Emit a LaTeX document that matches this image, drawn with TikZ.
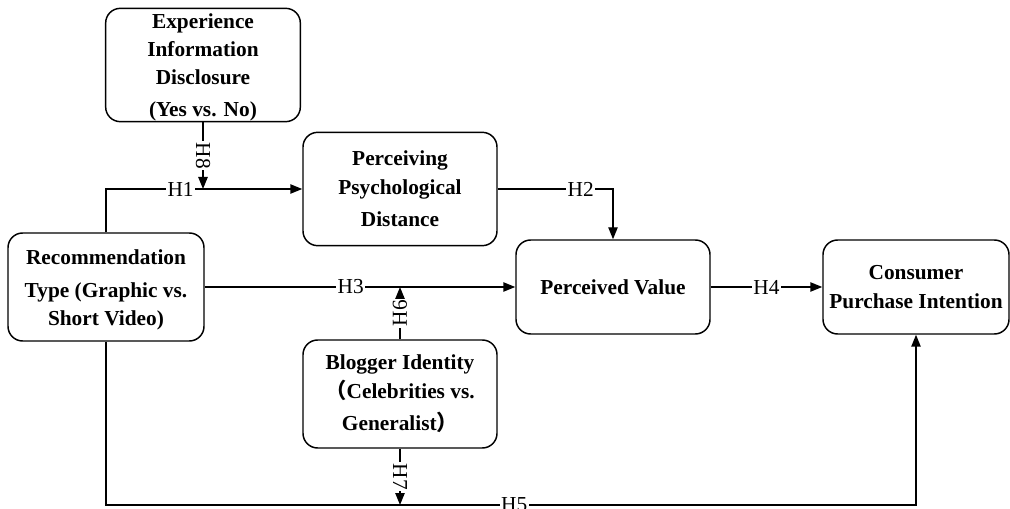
\documentclass[tikz,border=0pt]{standalone}
\usepackage{fontspec}
\setmainfont{Liberation Serif}
\newfontfamily\cjk{Noto Sans CJK SC}
\usetikzlibrary{arrows.meta,positioning}

\tikzset{
  box/.style={draw, line width=1.1pt, rounded corners=11pt, align=center,
    font=\bfseries\fontsize{16}{22}\selectfont, inner sep=2pt},
  hyp/.style={fill=white, inner sep=1pt, font=\fontsize{16}{16}\selectfont},
  link/.style={line width=1.1pt, -{Triangle[length=9pt,width=7pt]}}
}

\begin{document}
\begin{tikzpicture}[x=0.75pt,y=-0.75pt]
  \useasboundingbox (0,0) rectangle (1010,509);

  % variables
  \node[box, inner sep=0pt, minimum width=146pt, minimum height=85pt] (exp) at (203,65)
    {\rule{0pt}{14pt}Experience\\[-1pt]Information\\[-1pt]Disclosure\\[2pt](Yes vs. No)};
  \node[box, minimum width=145.5pt, minimum height=85pt] (perc) at (400,189)
    {Perceiving\\Psychological\\[2pt]Distance};
  \node[box, inner sep=0pt, minimum width=147pt, minimum height=81pt] (rec) at (106,287)
    {\rule{0pt}{15pt}Recommendation\\[3pt]Type (Graphic vs.\\[-1pt]Short Video)};
  \node[box, minimum width=145.5pt, minimum height=70.5pt] (pv) at (613,287)
    {Perceived Value};
  \node[box, minimum width=139.5pt, minimum height=70.5pt] (cons) at (916,287)
    {Consumer\\Purchase Intention};
  \node[box, minimum width=145.5pt, minimum height=81pt] (blog) at (400,394)
    {Blogger Identity\\{\cjk （}Celebrities vs.\\[2pt]Generalist{\cjk ）}};

  \coordinate (base) at (0,505);

  % hypotheses
  \draw[link] (rec.north) |- node[hyp, pos=0.69]{H1} (perc.west);
  \draw[link] (exp.south) -- node[hyp, rotate=-90]{H8} (exp.south |- perc.west);
  \draw[link] (perc.east) -| node[hyp, pos=0.36]{H2} (pv.north);
  \draw[link] (rec.east) -- node[hyp, pos=0.47]{H3} (pv.west);
  \draw[link] (blog.north) -- node[hyp, rotate=90]{H6} (blog.north |- rec.east);
  \draw[link] (pv.east) -- node[hyp]{H4} (cons.west);
  \draw[link] (rec.south) -- (rec.south |- base) -| node[hyp, pos=0.252]{H5} (cons.south);
  \draw[link] (blog.south) -- node[hyp, rotate=-90]{H7} (blog.south |- base);
\end{tikzpicture}
\end{document}
